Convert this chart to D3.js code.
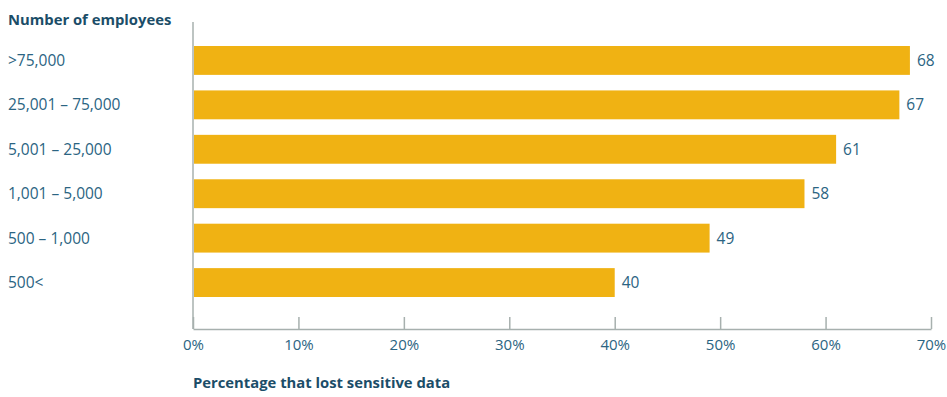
<!DOCTYPE html>
<html><head><meta charset="utf-8">
<script src="https://cdn.jsdelivr.net/npm/d3@7"></script>
<style>body{margin:0;background:#fff;} text{font-family:"Open Sans",sans-serif;}</style>
</head><body>
<svg id="c" width="947" height="397"></svg>
<script>
const categories = [">75,000", "25,001 – 75,000", "5,001 – 25,000", "1,001 – 5,000", "500 – 1,000", "500<"];
const values = [68, 67, 61, 58, 49, 40];
const tickValues = [0, 10, 20, 30, 40, 50, 60, 70];
const yTitle = "Number of employees";
const xTitle = "Percentage that lost sensitive data";

const svg = d3.select("#c");
const x = d3.scaleLinear().domain([0, 70]).range([193, 931]);
const y = d3.scaleBand().domain(categories).range([46, 297]).paddingInner(0.35).paddingOuter(0);
const axisColor = "#a7b0ae", textColor = "#2b6482", titleColor = "#1b4d68", barColor = "#f0b213";

// y axis line
svg.append("line").attr("x1", x(0)).attr("x2", x(0)).attr("y1", 22).attr("y2", 329)
  .attr("stroke", axisColor).attr("stroke-width", 1.5);

// x axis
const xAxis = d3.axisBottom(x).tickValues(tickValues).tickFormat(d => d + "%").tickSize(-12).tickSizeOuter(0);
const gx = svg.append("g").attr("transform", "translate(0,329)").call(xAxis);
gx.select(".domain").attr("stroke", axisColor).attr("stroke-width", 1.5);
gx.selectAll(".tick line").attr("stroke", axisColor).attr("stroke-width", 1.5);
gx.selectAll(".tick text").attr("fill", textColor).attr("font-size", 15).attr("y", 10).attr("dy", "0.71em")
  .style("font-family", "'Open Sans',sans-serif");

// bars
svg.selectAll("rect.bar").data(values).join("rect").attr("class", "bar")
  .attr("x", x(0) + 1).attr("y", (d, i) => y(categories[i]))
  .attr("width", d => x(d) - x(0) - 1).attr("height", y.bandwidth()).attr("fill", barColor);

// value labels
svg.selectAll("text.val").data(values).join("text").attr("class", "val")
  .attr("x", d => x(d) + 7).attr("y", (d, i) => y(categories[i]) + y.bandwidth() / 2)
  .attr("dy", "0.35em").attr("fill", textColor).attr("font-size", 15.5).text(d => d);

// category labels
svg.selectAll("text.cat").data(categories).join("text").attr("class", "cat")
  .attr("x", 8).attr("y", d => y(d) + y.bandwidth() / 2)
  .attr("dy", "0.35em").attr("fill", textColor).attr("font-size", 15.5).text(d => d);

// titles
svg.append("text").attr("x", 8).attr("y", 25).attr("fill", titleColor)
  .attr("font-size", 14.8).attr("font-weight", "bold").text(yTitle);
svg.append("text").attr("x", 193).attr("y", 388).attr("fill", titleColor)
  .attr("font-size", 14.8).attr("font-weight", "bold").text(xTitle);
</script>
</body></html>
